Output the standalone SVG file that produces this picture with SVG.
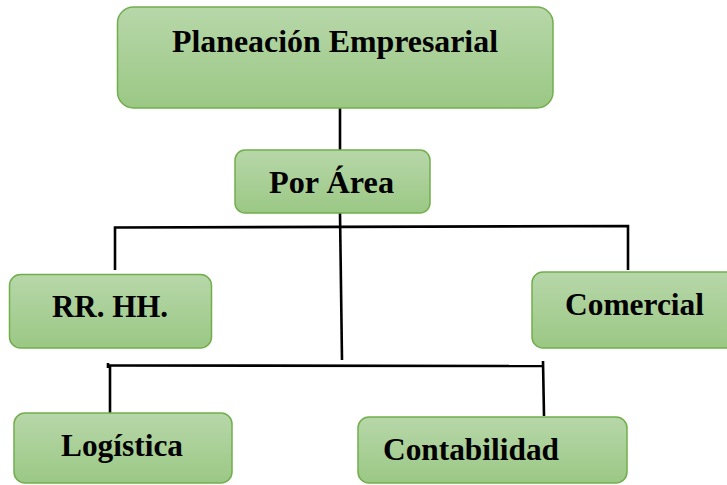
<svg xmlns="http://www.w3.org/2000/svg" width="727" height="485" viewBox="0 0 727 485">
<defs>
<linearGradient id="g" x1="0" y1="0" x2="0" y2="1">
<stop offset="0" stop-color="#b7d7a9"/>
<stop offset="1" stop-color="#9bc885"/>
</linearGradient>
<style>
.box{fill:url(#g);stroke:#72ae4c;stroke-width:1.5}
.t{font-family:'Liberation Serif','Times New Roman',serif;font-weight:bold;font-size:31px;fill:#000}
.c{stroke:#000;stroke-width:2.6;fill:none}
</style>
</defs>
<rect width="727" height="485" fill="#fff"/>
<g id="connectors">
<line class="c" x1="340" y1="108" x2="340" y2="150"/>
<line class="c" x1="340" y1="213" x2="342" y2="360"/>
<polyline class="c" points="115,270 115,227.5 628,226 628,270"/>
<line class="c" x1="108" y1="365.5" x2="543" y2="366"/>
<line class="c" x1="108" y1="363" x2="108" y2="368"/>
<line class="c" x1="110" y1="365.5" x2="110" y2="413"/>
<line class="c" x1="543" y1="361" x2="544" y2="416"/>
</g>
<g id="planeacion">
<rect class="box" x="117.5" y="7" width="435.5" height="101" rx="16"/>
<text class="t" x="172" y="52" textLength="326" lengthAdjust="spacingAndGlyphs">Planeación Empresarial</text>
</g>
<g id="porarea">
<rect class="box" x="235" y="150" width="195" height="63" rx="10"/>
<text class="t" x="269" y="193" textLength="125" lengthAdjust="spacingAndGlyphs">Por Área</text>
</g>
<g id="rrhh">
<rect class="box" x="9.5" y="274.5" width="202" height="73.5" rx="11"/>
<text class="t" x="52" y="317" textLength="116" lengthAdjust="spacingAndGlyphs">RR. HH.</text>
</g>
<g id="comercial">
<rect class="box" x="532" y="272" width="210" height="76" rx="11"/>
<text class="t" x="565" y="315" textLength="139" lengthAdjust="spacingAndGlyphs">Comercial</text>
</g>
<g id="logistica">
<rect class="box" x="14" y="413" width="218" height="70" rx="11"/>
<text class="t" x="61" y="456" textLength="122" lengthAdjust="spacingAndGlyphs">Logística</text>
</g>
<g id="contabilidad">
<rect class="box" x="358" y="417" width="269" height="66" rx="11"/>
<text class="t" x="383" y="460" textLength="176" lengthAdjust="spacingAndGlyphs">Contabilidad</text>
</g>
</svg>
